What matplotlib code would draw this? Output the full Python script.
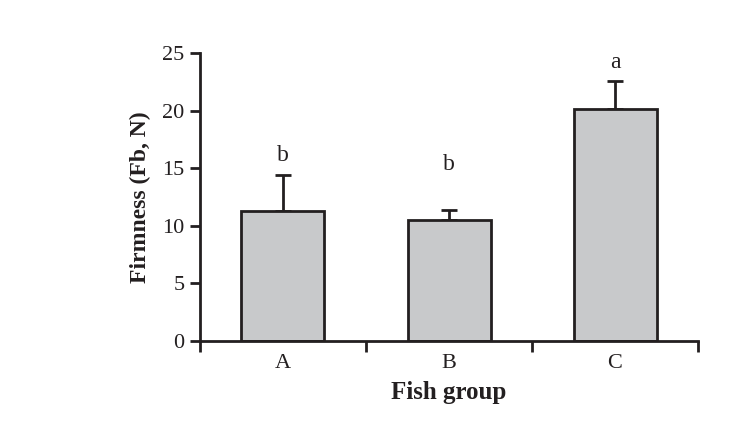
import numpy as np
import matplotlib
matplotlib.use("Agg")
from matplotlib import pyplot as plt

# Data
groups = ["A", "B", "C"]
firmness = [11.3, 10.5, 20.1]
sd_upper = [3.1, 0.9, 2.5]
letters = ["b", "b", "a"]
letter_y = [16.1, 15.3, 24.2]

plt.rcParams["font.family"] = ["Liberation Serif", "DejaVu Serif"]

fig = plt.figure(figsize=(7.39, 4.21), dpi=100)
ax = fig.add_axes([0.2706, 0.190, 0.674, 0.684])

x = np.arange(len(groups)) + 0.5
ax.bar(x, firmness, width=0.5, color="#c8c9cb", edgecolor="#231f20",
       linewidth=2, zorder=2)
ax.errorbar(x, firmness, yerr=[np.zeros(len(x)), sd_upper], fmt="none",
            ecolor="#231f20", elinewidth=2, capsize=6, capthick=2, zorder=1)

for xi, lab, ly in zip(x, letters, letter_y):
    ax.text(xi, ly, lab, ha="center", va="center", fontsize=17, color="#231f20")

ax.set_xlim(0, 3)
ax.set_ylim(0, 25)
ax.set_yticks([0, 5, 10, 15, 20, 25])
ax.set_xticks([0, 1, 2, 3])
ax.set_xticklabels([])
ax.set_xticks(x, minor=True)
ax.set_xticklabels(groups, minor=True)
ax.tick_params(axis="x", which="minor", length=0, labelsize=16, pad=9,
               labelcolor="#231f20")
ax.tick_params(axis="x", which="major", length=8, width=2, direction="out",
               color="#231f20")
ax.tick_params(axis="y", length=7, width=2, direction="out", labelsize=16,
               color="#231f20", labelcolor="#231f20", pad=4)

for side in ["top", "right"]:
    ax.spines[side].set_visible(False)
for side in ["left", "bottom"]:
    ax.spines[side].set_linewidth(2)
    ax.spines[side].set_color("#231f20")

ax.set_ylabel("Firmness (Fb, N)", fontsize=17, fontweight="bold",
              color="#231f20", labelpad=8)
ax.set_xlabel("Fish group", fontsize=18, fontweight="bold",
              color="#231f20", labelpad=6)

fig.savefig("out.png", dpi=100)
